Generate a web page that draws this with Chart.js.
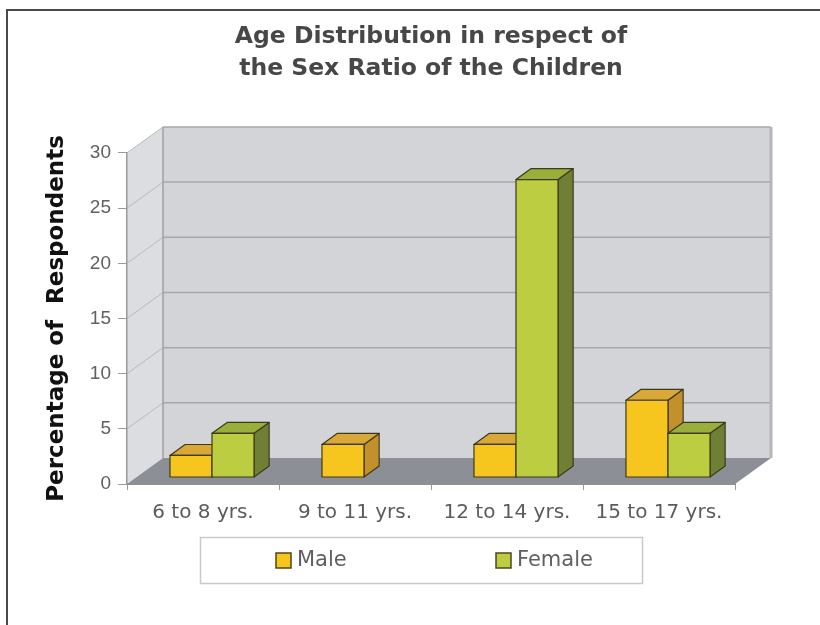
<!DOCTYPE html>
<html>
<head>
<meta charset="utf-8">
<script src="https://cdn.jsdelivr.net/npm/chart.js@4/dist/chart.umd.min.js"></script>
<style>
  html, body { margin: 0; padding: 0; background: #ffffff; }
  #wrap { width: 820px; height: 625px; }
</style>
</head>
<body>
<div id="wrap"><canvas id="chart" width="820" height="625"></canvas></div>
<script>
// ---- data ----
const categories = ['6 to 8 yrs.', '9 to 11 yrs.', '12 to 14 yrs.', '15 to 17 yrs.'];
const maleValues = [2, 3, 3, 7];
const femaleValues = [4, null, 27, 4];
const yTickValues = [0, 5, 10, 15, 20, 25, 30];
const seriesNames = ['Male', 'Female'];
const titleLines = ['Age Distribution in respect of', 'the Sex Ratio of the Children'];
const yAxisTitle = 'Percentage of  Respondents';

// ---- look ----
const DEPTH_X = 36, DEPTH_Y = -26;      // offset from front plane to back wall
const BAR_FRONT = 0.25, BAR_BACK = 0.67; // bar position inside the depth
const faceColors = [
  { front: '#f6c61f', top: '#d9a838', side: '#c3912c' },
  { front: '#bccd41', top: '#9aae3b', side: '#6f7f34' }
];
const barEdge = '#3e3a1c';

function poly(ctx, pts, fill, stroke, lw) {
  ctx.beginPath();
  ctx.moveTo(pts[0][0], pts[0][1]);
  for (let i = 1; i < pts.length; i++) ctx.lineTo(pts[i][0], pts[i][1]);
  ctx.closePath();
  if (fill) { ctx.fillStyle = fill; ctx.fill(); }
  if (stroke) { ctx.strokeStyle = stroke; ctx.lineWidth = lw || 1; ctx.stroke(); }
}

const box3d = {
  id: 'box3d',
  beforeDraw(chart) {
    const ctx = chart.ctx;
    const a = chart.chartArea;
    const ys = chart.scales.y;
    ctx.save();
    ctx.fillStyle = '#ffffff';
    ctx.fillRect(0, 0, chart.width, chart.height);

    // page frame
    ctx.strokeStyle = '#4a4a4a';
    ctx.lineWidth = 2;
    ctx.beginPath();
    ctx.moveTo(7, chart.height);
    ctx.lineTo(7, 10);
    ctx.lineTo(chart.width, 10);
    ctx.stroke();

    const L = a.left, R = a.right, T = a.top, B = a.bottom;
    // left side wall
    poly(ctx, [[L, B], [L, T], [L + DEPTH_X, T + DEPTH_Y], [L + DEPTH_X, B + DEPTH_Y]], '#dcdde0');
    // back wall
    poly(ctx, [[L + DEPTH_X, T + DEPTH_Y], [R + DEPTH_X, T + DEPTH_Y], [R + DEPTH_X, B + DEPTH_Y], [L + DEPTH_X, B + DEPTH_Y]], '#d2d4d7');
    // floor
    poly(ctx, [[L, B], [R, B], [R + DEPTH_X, B + DEPTH_Y], [L + DEPTH_X, B + DEPTH_Y]], '#8c8f95');

    // grid lines on the walls
    ys.ticks.forEach(t => {
      if (t.value === 0) return;
      const y = ys.getPixelForValue(t.value);
      ctx.lineWidth = 1.5;
      ctx.strokeStyle = '#a6a8ac';
      ctx.beginPath();
      ctx.moveTo(L + DEPTH_X, y + DEPTH_Y);
      ctx.lineTo(R + DEPTH_X, y + DEPTH_Y);
      ctx.stroke();
      ctx.lineWidth = 1;
      ctx.strokeStyle = '#b8babd';
      ctx.beginPath();
      ctx.moveTo(L, y);
      ctx.lineTo(L + DEPTH_X, y + DEPTH_Y);
      ctx.stroke();
    });
    // wall edges
    ctx.lineWidth = 1.5;
    ctx.strokeStyle = '#9ea0a4';
    ctx.beginPath();
    ctx.moveTo(L + DEPTH_X, B + DEPTH_Y);
    ctx.lineTo(L + DEPTH_X, T + DEPTH_Y);
    ctx.stroke();
    ctx.strokeStyle = '#b4b6b9';
    ctx.lineWidth = 3;
    ctx.beginPath();
    ctx.moveTo(R + DEPTH_X, T + DEPTH_Y);
    ctx.lineTo(R + DEPTH_X, B + DEPTH_Y);
    ctx.stroke();
    ctx.restore();
  },
  beforeDatasetsDraw(chart) {
    const ctx = chart.ctx;
    const fx = BAR_FRONT * DEPTH_X, fy = BAR_FRONT * DEPTH_Y;
    const bx = (BAR_BACK - BAR_FRONT) * DEPTH_X, by = (BAR_BACK - BAR_FRONT) * DEPTH_Y;
    ctx.save();
    ctx.lineJoin = 'round';
    for (let i = 0; i < categories.length; i++) {
      chart.data.datasets.forEach((ds, d) => {
        const v = ds.data[i];
        if (v === null || v === undefined) return;
        const el = chart.getDatasetMeta(d).data[i];
        const p = el.getProps(['x', 'y', 'base', 'width'], true);
        const l = p.x - p.width / 2 + fx, r = p.x + p.width / 2 + fx;
        const t = p.y + fy, b = p.base + fy;
        const c = faceColors[d];
        poly(ctx, [[r, t], [r + bx, t + by], [r + bx, b + by], [r, b]], c.side, barEdge, 1.2);
        poly(ctx, [[l, t], [l + bx, t + by], [r + bx, t + by], [r, t]], c.top, barEdge, 1.2);
        poly(ctx, [[l, t], [r, t], [r, b], [l, b]], c.front, barEdge, 1.2);
      });
    }
    ctx.restore();
    return false;
  },
  afterDraw(chart) {
    const ctx = chart.ctx;
    ctx.save();
    // legend box
    ctx.fillStyle = '#ffffff';
    ctx.fillRect(200, 537, 442, 46);
    ctx.strokeStyle = '#c9c9c9';
    ctx.lineWidth = 1.5;
    ctx.strokeRect(200.5, 537.5, 442, 46);
    const itemX = [276, 496];
    ctx.font = '21px "DejaVu Sans"';
    ctx.textBaseline = 'middle';
    ctx.textAlign = 'left';
    chart.data.datasets.forEach((ds, d) => {
      const x = itemX[d];
      ctx.fillStyle = faceColors[d].front;
      ctx.fillRect(x, 553, 15, 15);
      ctx.strokeStyle = '#4d4620';
      ctx.lineWidth = 1.5;
      ctx.strokeRect(x, 553, 15, 15);
      ctx.fillStyle = '#606060';
      ctx.fillText(ds.label, x + 21, 561);
    });
    ctx.restore();
  }
};

new Chart(document.getElementById('chart'), {
  type: 'bar',
  data: {
    labels: categories,
    datasets: [
      { label: seriesNames[0], data: maleValues, backgroundColor: faceColors[0].front },
      { label: seriesNames[1], data: femaleValues, backgroundColor: faceColors[1].front }
    ]
  },
  options: {
    responsive: false,
    devicePixelRatio: 1,
    animation: false,
    events: [],
    layout: { padding: { left: 30, right: 85, top: 0, bottom: 101 } },
    categoryPercentage: 0.553,
    barPercentage: 1.0,
    plugins: {
      legend: { display: false },
      tooltip: { enabled: false },
      title: {
        display: true,
        fullSize: false,
        text: titleLines,
        color: '#474747',
        font: { family: 'DejaVu Sans', size: 23.5, weight: 'bold', lineHeight: 1.36 },
        padding: { top: 21, bottom: 68 }
      }
    },
    scales: {
      x: {
        offset: true,
        grid: { display: true, drawOnChartArea: false, offset: true, tickLength: 6, color: '#9a9a9a' },
        border: { display: true, color: '#8c8f95', width: 2 },
        ticks: {
          color: '#5c5c5c',
          font: { family: 'DejaVu Sans', size: 20 },
          padding: 11,
          maxRotation: 0,
          autoSkip: false
        },
        afterFit(scale) { scale.height = 40; }
      },
      y: {
        min: 0,
        max: 30,
        afterBuildTicks(scale) { scale.ticks = yTickValues.map(v => ({ value: v })); },
        grid: { display: true, drawOnChartArea: false, tickLength: 9, color: '#9a9a9a' },
        border: { display: true, color: '#9a9a9a', width: 1.5 },
        ticks: {
          color: '#616161',
          font: { family: 'Liberation Sans', size: 19 },
          padding: 7
        },
        title: {
          display: true,
          text: yAxisTitle,
          color: '#111111',
          font: { family: 'DejaVu Sans', size: 23, weight: 'bold' },
          padding: { top: 13, bottom: 0 }
        },
        afterFit(scale) { scale.width = 97; }
      }
    }
  },
  plugins: [box3d]
});
</script>
</body>
</html>
